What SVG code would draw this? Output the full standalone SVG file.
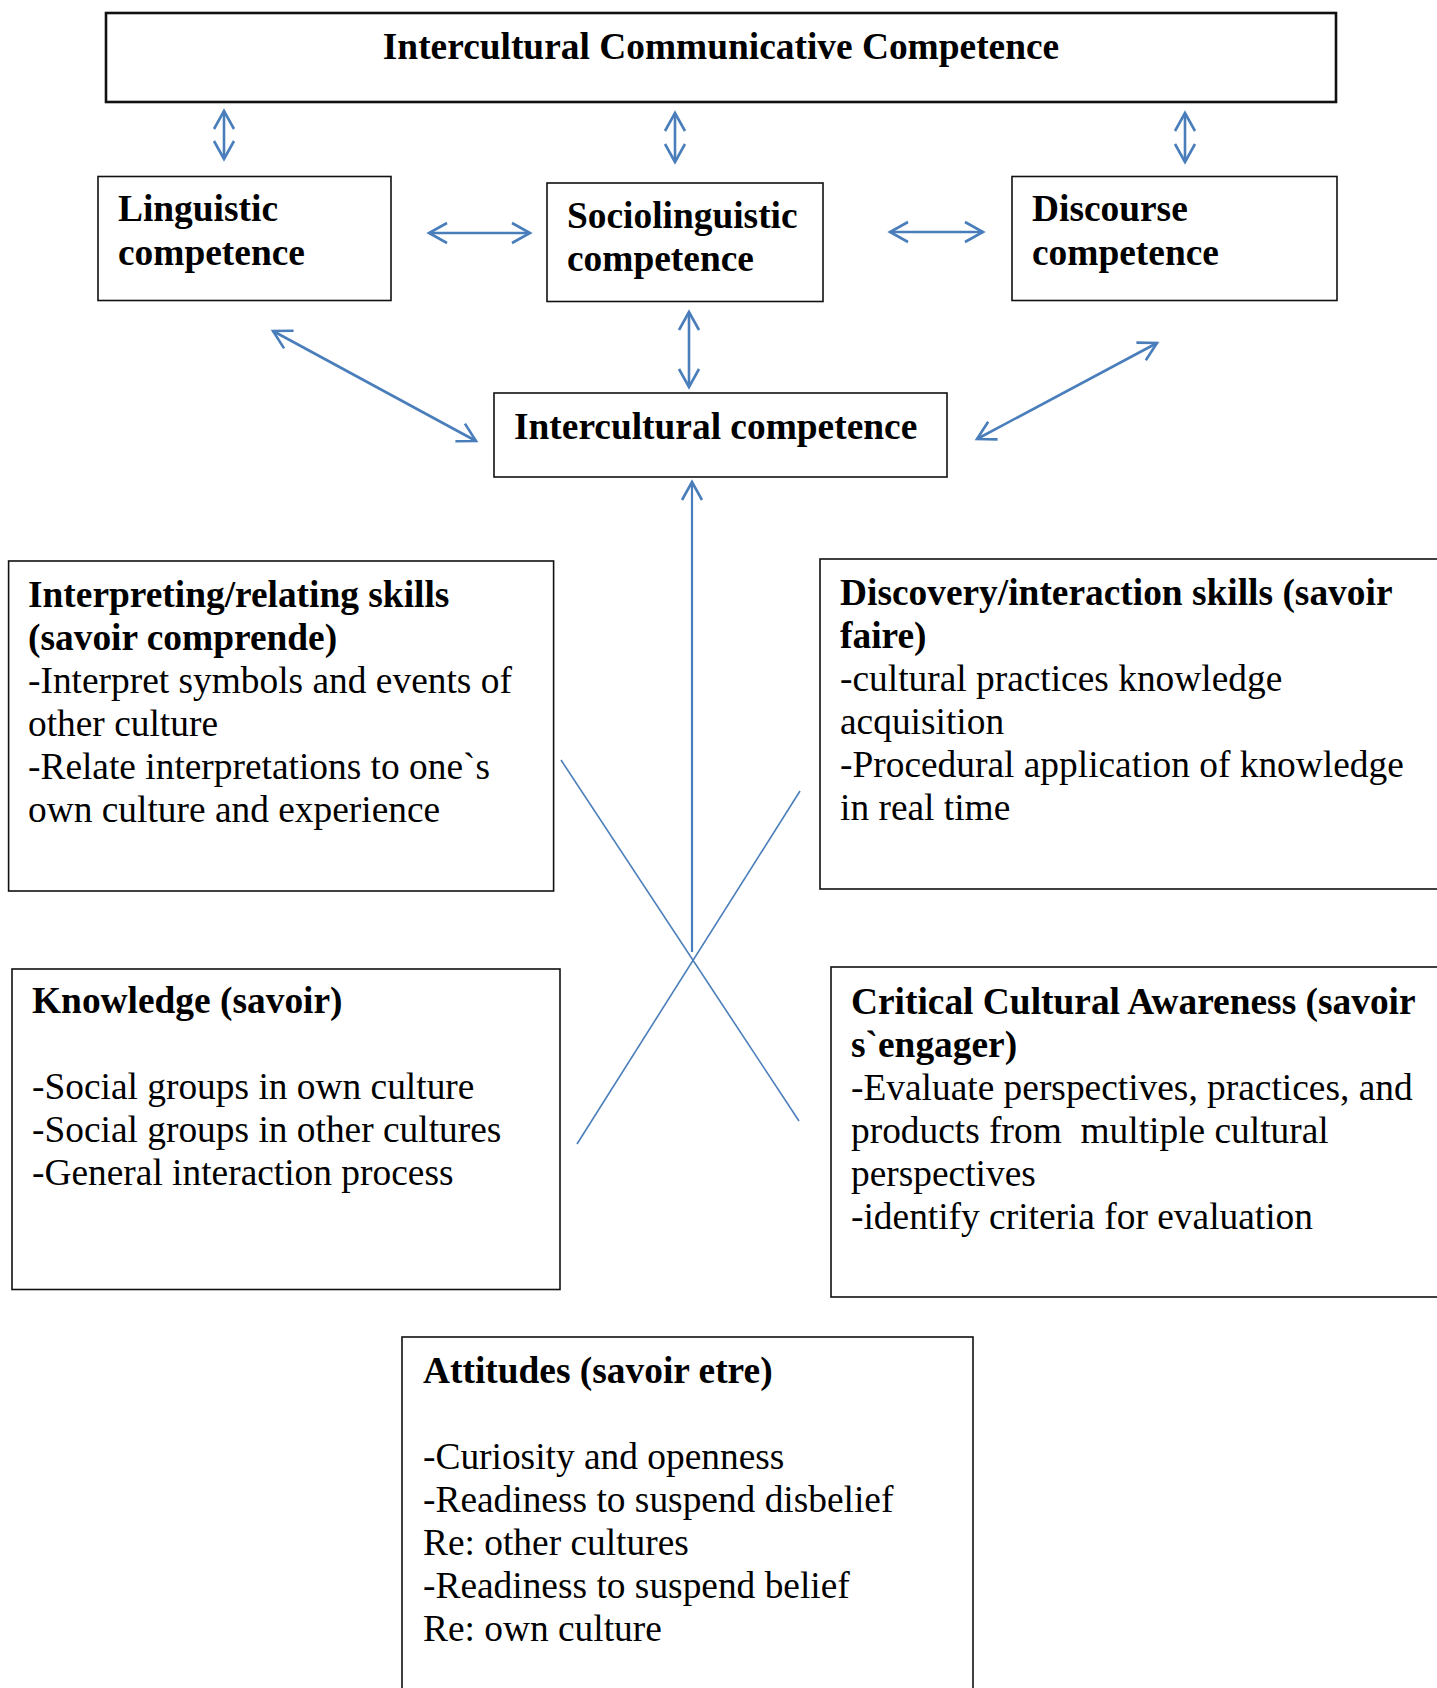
<svg xmlns="http://www.w3.org/2000/svg" width="1437" height="1688" viewBox="0 0 1437 1688">
<style>
  .box { fill: #fff; stroke: #111; stroke-width: 1.6; }
  .top { stroke-width: 2.6; }
  text { font-family: "Liberation Serif", "Times New Roman", serif; font-size: 37.4px; fill: #000; }
  .b { font-weight: bold; }
  .arr { fill: none; stroke: #4A7EBB; stroke-width: 2.6; marker-start: url(#ah); marker-end: url(#ah); }
  .one { fill: none; stroke: #4A7EBB; stroke-width: 2.2; marker-end: url(#ah); }
  .thin { fill: none; stroke: #4A7EBB; stroke-width: 1.6; }
</style>
<defs>
  <marker id="ah" viewBox="-21 -13 24 26" markerWidth="24" markerHeight="26" refX="0" refY="0" markerUnits="userSpaceOnUse" orient="auto-start-reverse">
    <path d="M-18,-10 L0,0 L-18,10" fill="none" stroke="#4A7EBB" stroke-width="2.6"/>
  </marker>
</defs>
<rect width="1437" height="1688" fill="#fff"/>

<g id="connectors">
  <line class="arr" x1="224" y1="111" x2="224" y2="159"/>
  <line class="arr" x1="675" y1="113" x2="675" y2="162"/>
  <line class="arr" x1="1185" y1="113" x2="1185" y2="162"/>
  <line class="arr" x1="429" y1="233" x2="530" y2="233"/>
  <line class="arr" x1="890" y1="232" x2="983" y2="232"/>
  <line class="arr" x1="689" y1="312" x2="689" y2="387"/>
  <line class="arr" x1="273" y1="331" x2="476" y2="441"/>
  <line class="arr" x1="1157" y1="343" x2="977" y2="439"/>
  <line class="one" x1="692" y1="952" x2="692" y2="482"/>
  <line class="thin" x1="561" y1="760" x2="799" y2="1121"/>
  <line class="thin" x1="800" y1="791" x2="577" y2="1144"/>
</g>

<g id="node-icc">
  <rect class="box top" x="106" y="13" width="1230" height="89"/>
  <text class="b" x="721" y="59" text-anchor="middle">Intercultural Communicative Competence</text>
</g>

<g id="node-linguistic">
  <rect class="box" x="98" y="176.5" width="293" height="124"/>
  <text class="b" x="118" y="221">Linguistic</text>
  <text class="b" x="118" y="265">competence</text>
</g>

<g id="node-sociolinguistic">
  <rect class="box" x="547" y="183" width="276" height="118.5"/>
  <text class="b" x="567" y="228">Sociolinguistic</text>
  <text class="b" x="567" y="271">competence</text>
</g>

<g id="node-discourse">
  <rect class="box" x="1012" y="176.5" width="325" height="124"/>
  <text class="b" x="1032" y="221">Discourse</text>
  <text class="b" x="1032" y="265">competence</text>
</g>

<g id="node-ic">
  <rect class="box" x="494" y="393" width="453" height="84"/>
  <text class="b" x="514" y="439">Intercultural competence</text>
</g>

<g id="node-interpreting">
  <rect class="box" x="8.6" y="561" width="545" height="330"/>
  <text class="b" x="28" y="607">Interpreting/relating skills</text>
  <text class="b" x="28" y="650">(savoir comprende)</text>
  <text x="28" y="693">-Interpret symbols and events of</text>
  <text x="28" y="736">other culture</text>
  <text x="28" y="779">-Relate interpretations to one`s</text>
  <text x="28" y="822">own culture and experience</text>
</g>

<g id="node-discovery">
  <rect class="box" x="820" y="559" width="630" height="330"/>
  <text class="b" x="840" y="605">Discovery/interaction skills (savoir</text>
  <text class="b" x="840" y="648">faire)</text>
  <text x="840" y="691">-cultural practices knowledge</text>
  <text x="840" y="734">acquisition</text>
  <text x="840" y="777">-Procedural application of knowledge</text>
  <text x="840" y="820">in real time</text>
</g>

<g id="node-knowledge">
  <rect class="box" x="12" y="969" width="548" height="320.5"/>
  <text class="b" x="32" y="1013">Knowledge (savoir)</text>
  <text x="32" y="1099">-Social groups in own culture</text>
  <text x="32" y="1142">-Social groups in other cultures</text>
  <text x="32" y="1185">-General interaction process</text>
</g>

<g id="node-critical">
  <rect class="box" x="831" y="967" width="620" height="330"/>
  <text class="b" x="851" y="1014">Critical Cultural Awareness (savoir</text>
  <text class="b" x="851" y="1057">s`engager)</text>
  <text x="851" y="1100">-Evaluate perspectives, practices, and</text>
  <text x="851" y="1143" xml:space="preserve">products from  multiple cultural</text>
  <text x="851" y="1186">perspectives</text>
  <text x="851" y="1229">-identify criteria for evaluation</text>
</g>

<g id="node-attitudes">
  <rect class="box" x="402" y="1337" width="571" height="370"/>
  <text class="b" x="423" y="1383">Attitudes (savoir etre)</text>
  <text x="423" y="1469">-Curiosity and openness</text>
  <text x="423" y="1512">-Readiness to suspend disbelief</text>
  <text x="423" y="1555">Re: other cultures</text>
  <text x="423" y="1598">-Readiness to suspend belief</text>
  <text x="423" y="1641">Re: own culture</text>
</g>
</svg>
